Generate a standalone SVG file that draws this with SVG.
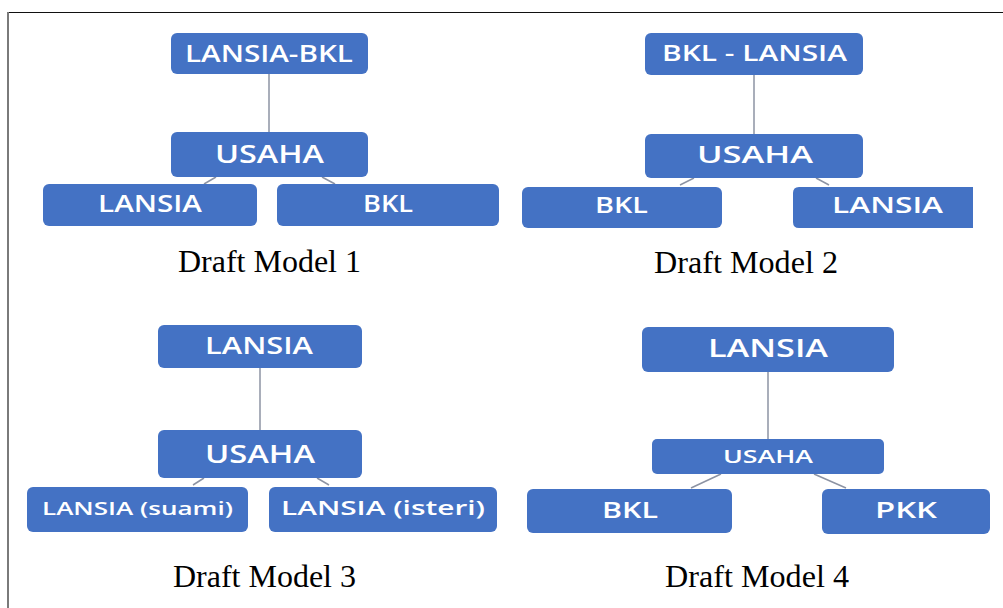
<svg xmlns="http://www.w3.org/2000/svg" width="1003" height="608" viewBox="0 0 1003 608">
  <style>
    .box { fill: #4472C4; }
    .lbl { fill: #FFFFFF; font-family: "Open Sans", "DejaVu Sans", sans-serif; font-weight: 600; text-anchor: middle; }
    .cap { fill: #000000; font-family: "Liberation Serif", "DejaVu Serif", serif; font-size: 31px; text-anchor: middle; }
    .con { stroke: #8C93A3; stroke-width: 1.5; fill: none; }
  </style>
  <rect x="0" y="0" width="1003" height="608" fill="#FFFFFF"/>
  <g id="frame">
    <line x1="7" y1="12.5" x2="1003" y2="12.5" stroke="#111111" stroke-width="1.2"/>
    <line x1="8" y1="12" x2="8" y2="608" stroke="#7A7A7A" stroke-width="2"/>
  </g>

  <g id="connectors">
    <line class="con" x1="269" y1="74" x2="269" y2="132"/>
    <line class="con" x1="204" y1="184" x2="216" y2="177"/>
    <line class="con" x1="322" y1="177" x2="335" y2="184"/>

    <line class="con" x1="754" y1="75" x2="754" y2="134"/>
    <line class="con" x1="680" y1="185" x2="694" y2="178"/>
    <line class="con" x1="816" y1="178" x2="829" y2="185"/>

    <line class="con" x1="260" y1="368" x2="260" y2="430"/>
    <line class="con" x1="193" y1="485" x2="204" y2="478"/>
    <line class="con" x1="317" y1="478" x2="329" y2="485"/>

    <line class="con" x1="768" y1="372" x2="768" y2="439"/>
    <line class="con" x1="691" y1="488" x2="721" y2="474"/>
    <line class="con" x1="814" y1="474" x2="846" y2="488"/>
  </g>

  <!-- Draft Model 1 -->
  <g id="m1-top">
    <rect class="box" x="171" y="33" width="197" height="41" rx="6"/>
    <text class="lbl" x="269" y="62" font-size="23" textLength="168" lengthAdjust="spacingAndGlyphs">LANSIA-BKL</text>
  </g>
  <g id="m1-usaha">
    <rect class="box" x="171" y="132" width="197" height="45" rx="6"/>
    <text class="lbl" x="269.5" y="163" font-size="25" textLength="109" lengthAdjust="spacingAndGlyphs">USAHA</text>
  </g>
  <g id="m1-lansia">
    <rect class="box" x="43" y="184" width="214" height="42" rx="6"/>
    <text class="lbl" x="150" y="212" font-size="23" textLength="104" lengthAdjust="spacingAndGlyphs">LANSIA</text>
  </g>
  <g id="m1-bkl">
    <rect class="box" x="277" y="184" width="222" height="42" rx="6"/>
    <text class="lbl" x="388" y="212" font-size="23" textLength="50" lengthAdjust="spacingAndGlyphs">BKL</text>
  </g>
  <text class="cap" x="269.5" y="272" textLength="183" lengthAdjust="spacingAndGlyphs">Draft Model 1</text>

  <!-- Draft Model 2 -->
  <g id="m2-top">
    <rect class="box" x="645" y="33" width="218" height="42" rx="6"/>
    <text class="lbl" x="754.5" y="61" font-size="22" textLength="185" lengthAdjust="spacingAndGlyphs">BKL - LANSIA</text>
  </g>
  <g id="m2-usaha">
    <rect class="box" x="645" y="134" width="218" height="44" rx="6"/>
    <text class="lbl" x="755" y="163" font-size="23" textLength="116" lengthAdjust="spacingAndGlyphs">USAHA</text>
  </g>
  <g id="m2-bkl">
    <rect class="box" x="522" y="187" width="200" height="41" rx="6"/>
    <text class="lbl" x="621.5" y="213" font-size="21" textLength="53" lengthAdjust="spacingAndGlyphs">BKL</text>
  </g>
  <g id="m2-lansia">
    <path class="box" d="M799,187 H973 V228 H799 Q793,228 793,222 V193 Q793,187 799,187 Z"/>
    <text class="lbl" x="887.5" y="213" font-size="21" textLength="111" lengthAdjust="spacingAndGlyphs">LANSIA</text>
  </g>
  <text class="cap" x="746" y="273" textLength="184" lengthAdjust="spacingAndGlyphs">Draft Model 2</text>

  <!-- Draft Model 3 -->
  <g id="m3-top">
    <rect class="box" x="158" y="325" width="204" height="43" rx="6"/>
    <text class="lbl" x="259" y="354" font-size="24" textLength="108" lengthAdjust="spacingAndGlyphs">LANSIA</text>
  </g>
  <g id="m3-usaha">
    <rect class="box" x="158" y="430" width="204" height="48" rx="6"/>
    <text class="lbl" x="260" y="463" font-size="25" textLength="110" lengthAdjust="spacingAndGlyphs">USAHA</text>
  </g>
  <g id="m3-suami">
    <rect class="box" x="27" y="487" width="221" height="45" rx="6"/>
    <text class="lbl" x="137.5" y="515" font-size="18" font-weight="400" textLength="191" lengthAdjust="spacingAndGlyphs">LANSIA (suami)</text>
  </g>
  <g id="m3-isteri">
    <rect class="box" x="269" y="487" width="228" height="45" rx="6"/>
    <text class="lbl" x="383" y="515" font-size="20" font-weight="400" textLength="204" lengthAdjust="spacingAndGlyphs">LANSIA (isteri)</text>
  </g>
  <text class="cap" x="264.5" y="587" textLength="183" lengthAdjust="spacingAndGlyphs">Draft Model 3</text>

  <!-- Draft Model 4 -->
  <g id="m4-top">
    <rect class="box" x="642" y="327" width="252" height="45" rx="6"/>
    <text class="lbl" x="768" y="357" font-size="25" textLength="120" lengthAdjust="spacingAndGlyphs">LANSIA</text>
  </g>
  <g id="m4-usaha">
    <rect class="box" x="652" y="439" width="232" height="35" rx="5"/>
    <text class="lbl" x="768" y="463" font-size="18" textLength="90" lengthAdjust="spacingAndGlyphs">USAHA</text>
  </g>
  <g id="m4-bkl">
    <rect class="box" x="527" y="489" width="205" height="44" rx="6"/>
    <text class="lbl" x="630" y="518" font-size="22" textLength="56" lengthAdjust="spacingAndGlyphs">BKL</text>
  </g>
  <g id="m4-pkk">
    <rect class="box" x="822" y="489" width="168" height="45" rx="6"/>
    <text class="lbl" x="906" y="518" font-size="22" textLength="62" lengthAdjust="spacingAndGlyphs">PKK</text>
  </g>
  <text class="cap" x="757" y="587" textLength="184" lengthAdjust="spacingAndGlyphs">Draft Model 4</text>
</svg>
